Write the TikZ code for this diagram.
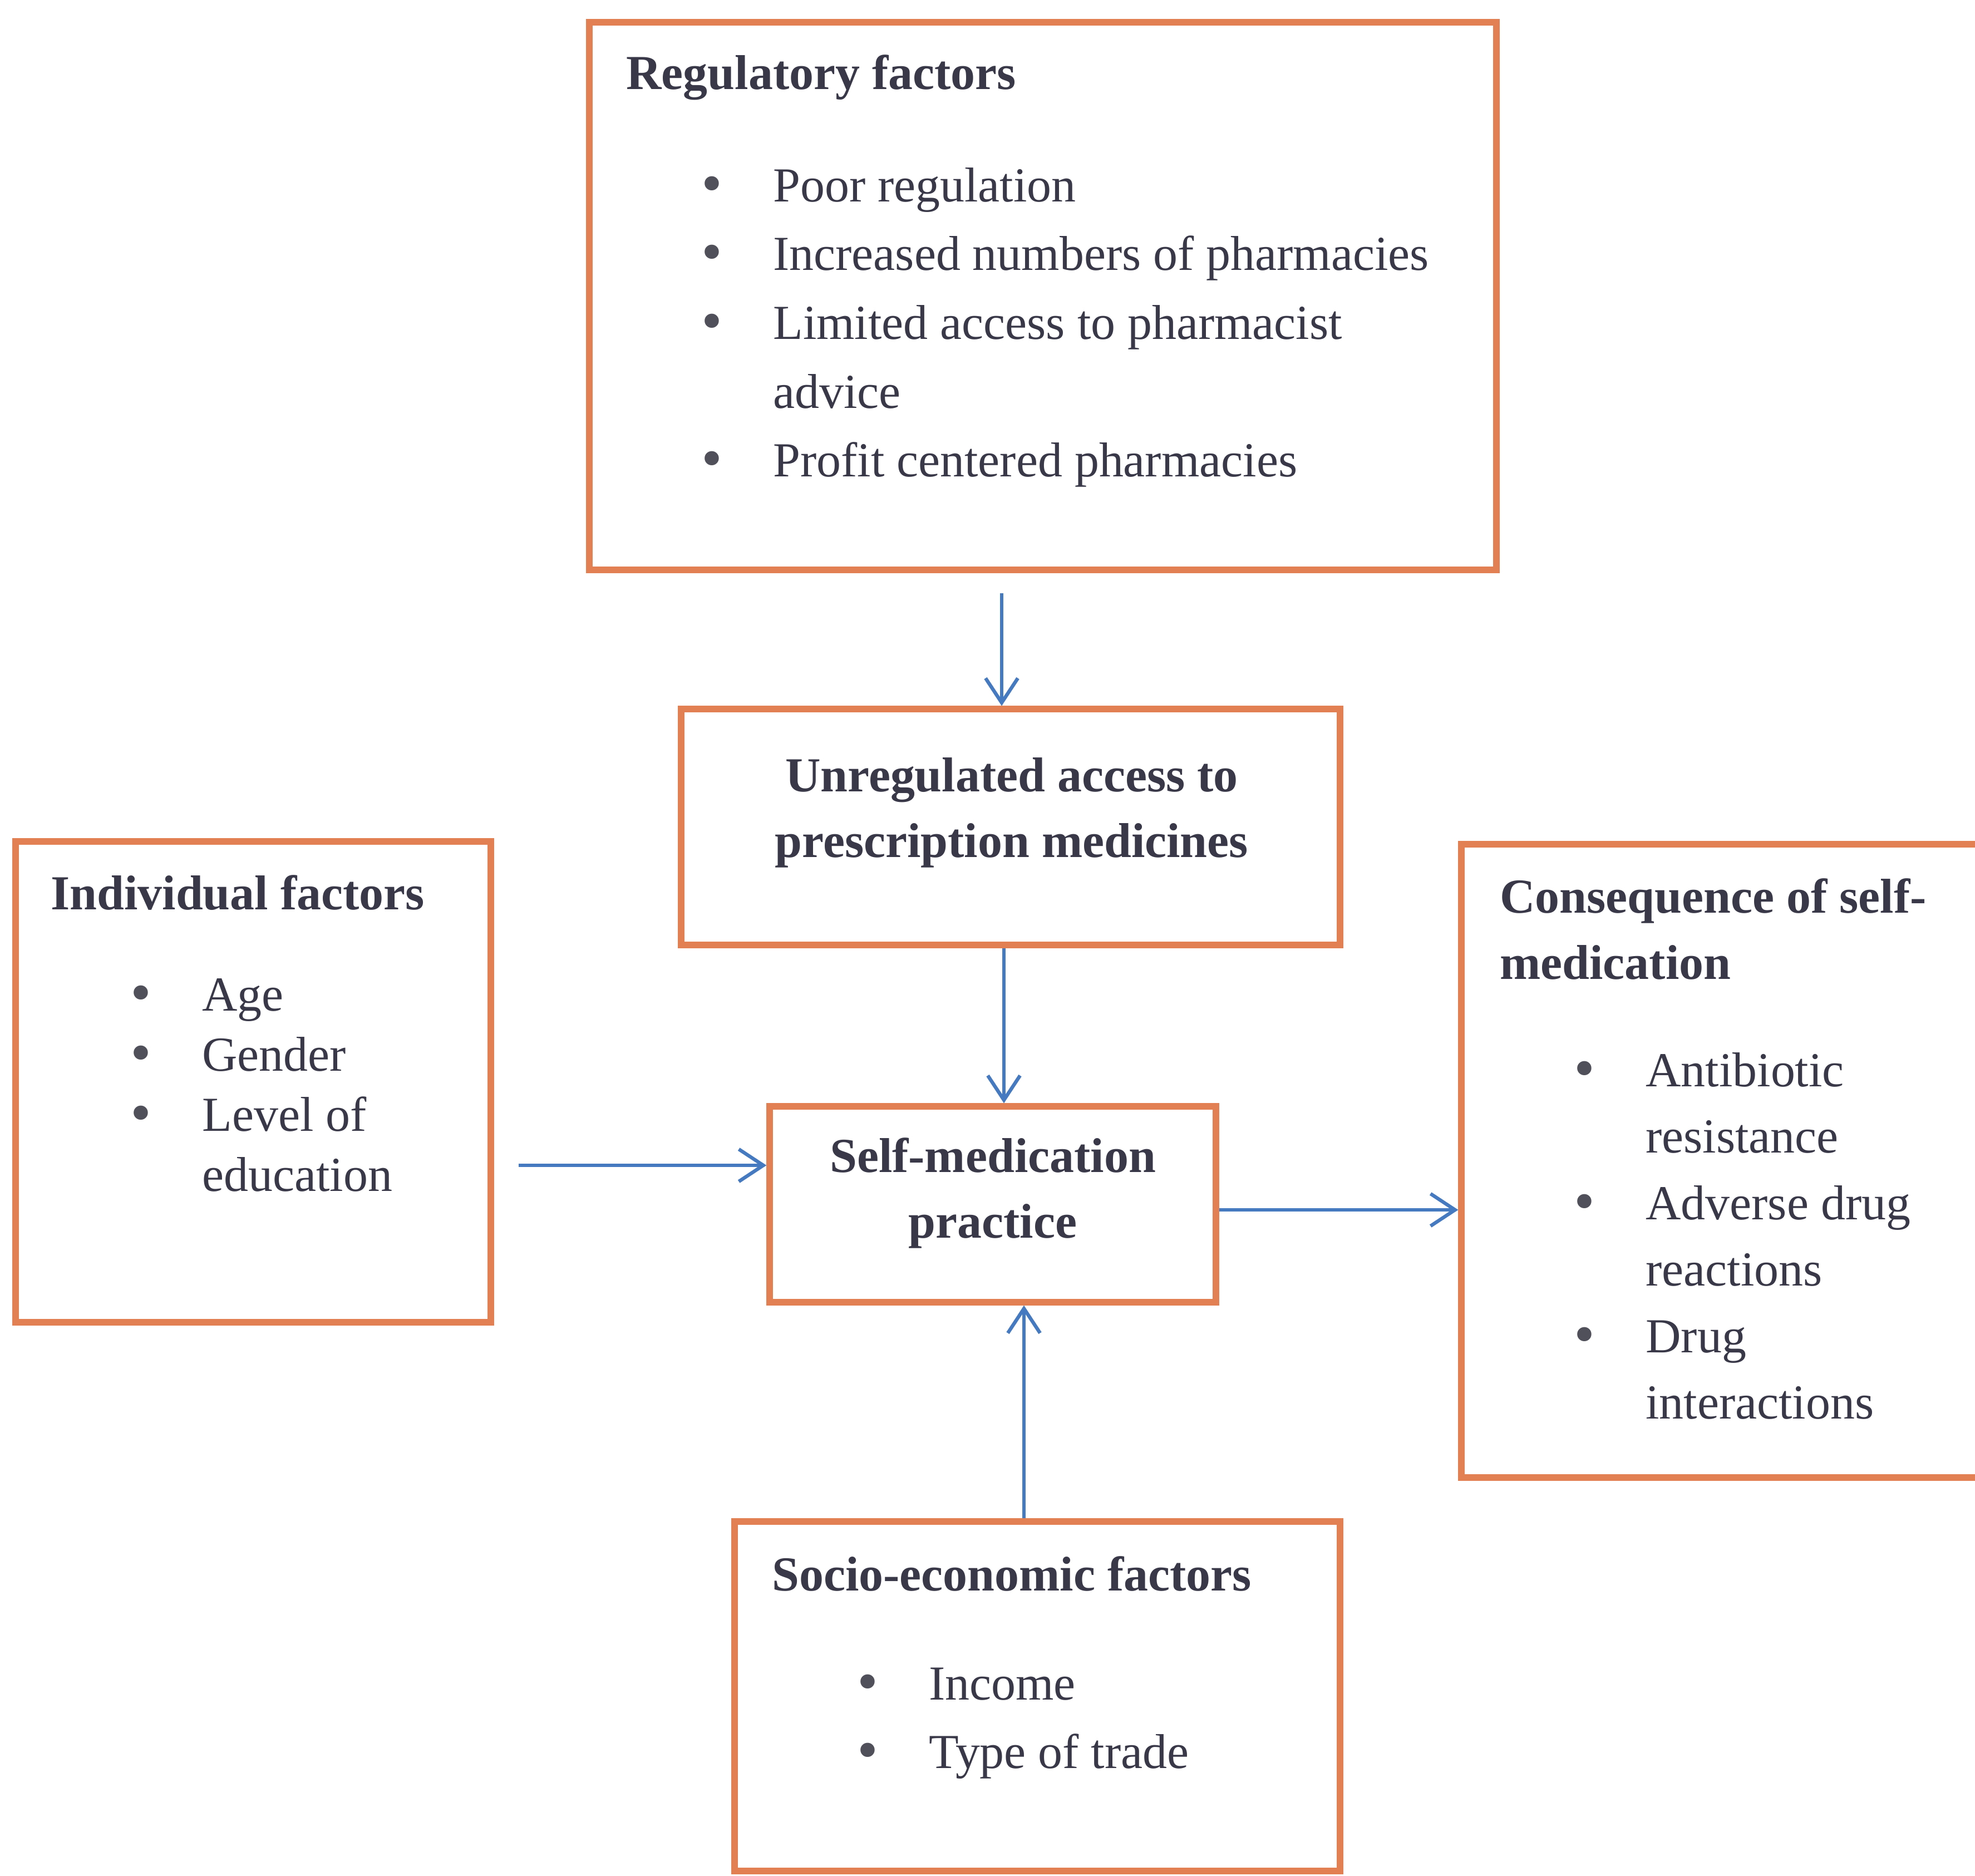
\documentclass[tikz,border=0pt]{standalone}
\usepackage{fontspec}
\setmainfont{Liberation Serif}
\newfontfamily\dotfont{DejaVu Sans}
\usetikzlibrary{arrows.meta,calc,positioning}
\definecolor{boxorange}{RGB}{226,128,84}
\definecolor{flowblue}{RGB}{70,122,192}
\definecolor{inkgray}{RGB}{56,56,72}
\definecolor{dotgray}{RGB}{80,80,90}
\newcommand{\bul}{\makebox[0.61cm][l]{\hspace*{-0.07cm}\color{dotgray}{\dotfont\textbullet}}}
\newcommand{\gap}{\hspace*{0.61cm}}
\tikzset{
	orangebox/.style={draw=boxorange,line width=1.6pt,anchor=center},
	flow/.style={draw=flowblue,line width=0.9pt,-{Straight Barb[length=2.2mm,width=2.9mm]}},
	title/.style={font=\bfseries\fontsize{12.5}{17}\selectfont,text=inkgray,inner sep=0pt,anchor=base west},
	items/.style={font=\fontsize{12.5}{#1}\selectfont,text=inkgray,inner sep=0pt,anchor=base west},
	items/.default=17.6,
	middle/.style={font=\bfseries\fontsize{12.5}{16.8}\selectfont,text=inkgray,inner sep=0pt,anchor=base},
}
\begin{document}
\begin{tikzpicture}
\useasboundingbox (0,0) rectangle (17.745,-16.855);
% boxes
\node (regbox) at (9.37,-2.66) [orangebox,minimum width=8.15cm,minimum height=4.92cm] {};
\node (unreg) at (9.08,-7.43) [orangebox,minimum width=5.92cm,minimum height=2.12cm] {};
\node (selfmed) at (8.92,-10.82) [orangebox,minimum width=4.01cm,minimum height=1.76cm] {};
\node (indiv) at (2.275,-9.72) [orangebox,minimum width=4.27cm,minimum height=4.32cm] {};
\node (cons) at (15.515,-10.43) [orangebox,minimum width=4.77cm,minimum height=5.69cm] {};
\node (socio) at (9.32,-15.24) [orangebox,minimum width=5.44cm,minimum height=3.14cm] {};
% texts
\node (regtitle) at (5.62,-0.80) [title] {Regulatory factors};
\node (reglist) at (6.33,-1.81) [items] {\begin{tabular}[t]{@{}l@{}}
	\bul Poor regulation\\
	\bul Increased numbers of pharmacies\\
	\bul Limited access to pharmacist\\
	\gap advice\\
	\bul Profit centered pharmacies
\end{tabular}};
\node (unregtext) at (9.09,-7.11) [middle] {\begin{tabular}[t]{@{}c@{}}
	Unregulated access to\\ prescription medicines
\end{tabular}};
\node (selftext) at (8.92,-10.53) [middle] {\begin{tabular}[t]{@{}c@{}}
	Self-medication\\ practice
\end{tabular}};
\node (indivtitle) at (0.45,-8.17) [title] {Individual factors};
\node (indivlist) at (1.20,-9.08) [items=15.4] {\begin{tabular}[t]{@{}l@{}}
	\bul Age\\
	\bul Gender\\
	\bul Level of\\
	\gap education
\end{tabular}};
\node (constitle) at (13.47,-8.20) [title] {\begin{tabular}[t]{@{}l@{}}
	Consequence of self-\\ medication
\end{tabular}};
\node (conslist) at (14.17,-9.76) [items=17] {\begin{tabular}[t]{@{}l@{}}
	\bul Antibiotic\\
	\gap resistance\\
	\bul Adverse drug\\
	\gap reactions\\
	\bul Drug\\
	\gap interactions
\end{tabular}};
\node (sociotitle) at (6.93,-14.29) [title] {Socio-economic factors};
\node (sociolist) at (7.73,-15.27) [items] {\begin{tabular}[t]{@{}l@{}}
	\bul Income\\
	\bul Type of trade
\end{tabular}};
% arrows
\draw[flow] ($(regbox.south)+(-0.37,-0.18)$) coordinate (R1) -- (R1|-unreg.north);
\draw[flow] ($(unreg.south)+(-0.06,0)$) coordinate (U1) -- (U1|-selfmed.north);
\draw[flow] ($(indiv.east)+(0.22,-0.75)$) coordinate (I1) -- (I1-|selfmed.west);
\draw[flow] ($(selfmed.east)+(0,-0.05)$) coordinate (S1) -- (S1-|cons.west);
\draw[flow] ($(socio.north)+(-0.12,0)$) coordinate (E1) -- (E1|-selfmed.south);
\end{tikzpicture}
\end{document}
